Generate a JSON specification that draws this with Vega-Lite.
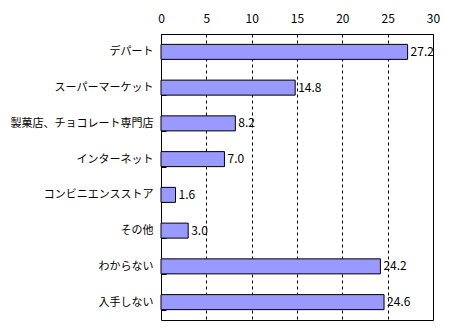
{
  "$schema": "https://vega.github.io/schema/vega-lite/v6.json",
  "width": 272,
  "height": 286,
  "autosize": {"type": "none"},
  "padding": {"left": 161, "top": 34, "right": 17, "bottom": 7},
  "background": "white",
  "config": {
    "font": "Noto Sans CJK JP",
    "view": {"stroke": "black", "strokeWidth": 1},
    "axis": {"labelFont": "Noto Sans CJK JP", "labelColor": "black", "labelFontSize": 12}
  },
  "data": {
    "values": [
      {"category": "デパート", "value": 27.2},
      {"category": "スーパーマーケット", "value": 14.8},
      {"category": "製菓店、チョコレート専門店", "value": 8.2},
      {"category": "インターネット", "value": 7.0},
      {"category": "コンビニエンスストア", "value": 1.6},
      {"category": "その他", "value": 3.0},
      {"category": "わからない", "value": 24.2},
      {"category": "入手しない", "value": 24.6}
    ]
  },
  "encoding": {
    "y": {
      "field": "category", "type": "nominal", "sort": null,
      "scale": {"paddingInner": 0.58, "paddingOuter": 0.29},
      "axis": {"title": null, "domain": false, "ticks": true, "tickBand": "extent", "tickSize": -5, "tickColor": "black", "labelPadding": 13, "labelFontSize": 11, "labelLimit": 200}
    },
    "x": {
      "field": "value", "type": "quantitative",
      "scale": {"domain": [0, 30], "nice": false},
      "axis": {"orient": "top", "title": null, "values": [0, 5, 10, 15, 20, 25, 30], "domain": false, "ticks": false, "labelPadding": 9, "grid": true, "gridColor": "black", "gridDash": [3, 3], "gridOpacity": 1, "labelFlush": false}
    }
  },
  "layer": [
    {"mark": {"type": "bar", "color": "#9999FF", "stroke": "black", "strokeWidth": 1}},
    {"mark": {"type": "text", "align": "left", "dx": 3, "fontSize": 12, "color": "black"}, "encoding": {"text": {"field": "value", "format": ".1f"}}}
  ]
}
